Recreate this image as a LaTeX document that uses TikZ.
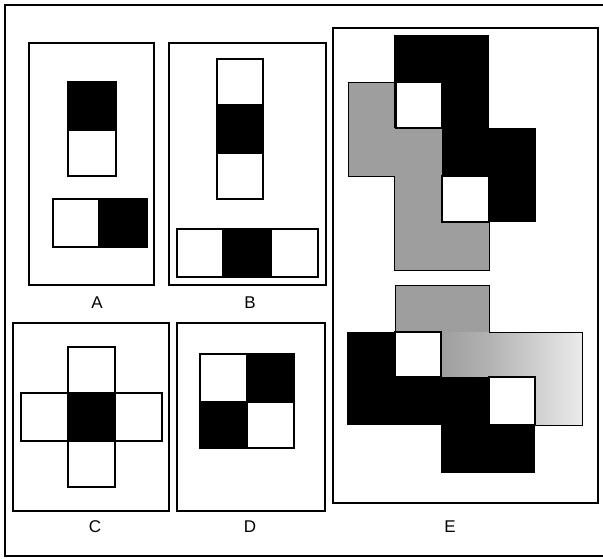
\documentclass[tikz,border=0pt]{standalone}
\usepackage{fontspec}
\setmainfont{Liberation Sans}
\begin{document}
\begin{tikzpicture}[x=1pt,y=-1pt,
  frame/.style={draw=black,line width=1.1pt},
  wsq/.style={draw=black,fill=white,line width=1.3pt},
  bsq/.style={fill=black},
  gry/.style={draw=black,line width=0.8pt,fill=black!38},
  lbl/.style={font=\fontsize{17}{17}\selectfont,inner sep=0pt}]
\useasboundingbox (0,0) rectangle (603,558);
% outer frame (no right edge)
\draw[frame] (603,5) -- (5,5) -- (5,556) -- (603,556);
% panels
\draw[frame] (29,43) rectangle (154,285);
\draw[frame] (169,43) rectangle (326,285);
\draw[frame] (13,323) rectangle (169,511);
\draw[frame] (177,323) rectangle (325,511);
\draw[frame] (333,28) rectangle (598,503);
% A
\fill[bsq] (68,82) rectangle (116,130);
\draw[wsq] (68,130) rectangle (116,176);
\draw[line width=1.3pt] (68,82) rectangle (116,176);
\draw[wsq] (53,199) rectangle (99,247);
\fill[bsq] (99,199) rectangle (147,247);
\draw[line width=1.3pt] (53,199) rectangle (147,247);
% B
\draw[wsq] (217,59) rectangle (263,105);
\fill[bsq] (217,105) rectangle (263,153);
\draw[wsq] (217,153) rectangle (263,199);
\draw[line width=1.3pt] (217,59) rectangle (263,199);
\draw[wsq] (177,229) rectangle (223,277);
\fill[bsq] (223,229) rectangle (271,277);
\draw[wsq] (271,229) rectangle (318,277);
\draw[line width=1.3pt] (177,229) rectangle (318,277);
% C
\draw[wsq] (68,347) rectangle (115,393);
\draw[wsq] (21,393) rectangle (68,441);
\draw[wsq] (115,393) rectangle (162,441);
\draw[wsq] (68,441) rectangle (115,487);
\fill[bsq] (68,393) rectangle (115,441);
% D
\draw[wsq] (200,354) rectangle (247,402);
\fill[bsq] (247,354) rectangle (294,402);
\fill[bsq] (200,402) rectangle (247,448);
\draw[wsq] (247,402) rectangle (294,448);
\draw[line width=1.3pt] (200,354) rectangle (294,448);
% E upper
\draw[gry] (348,82) -- (442,82) -- (442,176) -- (489,176) -- (489,270) -- (394,270) -- (394,176) -- (348,176) -- cycle;
\fill[bsq] (394,35) rectangle (489,128);
\fill[bsq] (442,128) rectangle (536,222);
\draw[wsq] (396,82) rectangle (442,128);
\draw[wsq] (442,176) rectangle (489,222);
% E lower
\fill[black!38] (395,285) -- (489,285) -- (489,332) -- (582,332) -- (582,425) -- (489,425) -- (489,377) -- (395,377) -- cycle;
\shade[left color=black!30,right color=black!8] (489,332) rectangle (582,425);
\shade[left color=black!38,right color=black!30] (441,332) rectangle (489,377);
\draw[line width=0.8pt] (395,285) -- (489,285) -- (489,332) -- (582,332) -- (582,425) -- (489,425) -- (489,377) -- (395,377) -- cycle;
\fill[bsq] (347,332) rectangle (441,425);
\fill[bsq] (441,377) rectangle (535,473);
\draw[wsq] (395,332) rectangle (441,377);
\draw[wsq] (489,377) rectangle (535,425);
% labels
\node[lbl] (la) at (97,303) {A};
\node[lbl] (lb) at (250,303) {B};
\node[lbl] (lc) at (95,527) {C};
\node[lbl] (ld) at (250,527) {D};
\node[lbl] (le) at (450,527) {E};
\end{tikzpicture}
\end{document}
